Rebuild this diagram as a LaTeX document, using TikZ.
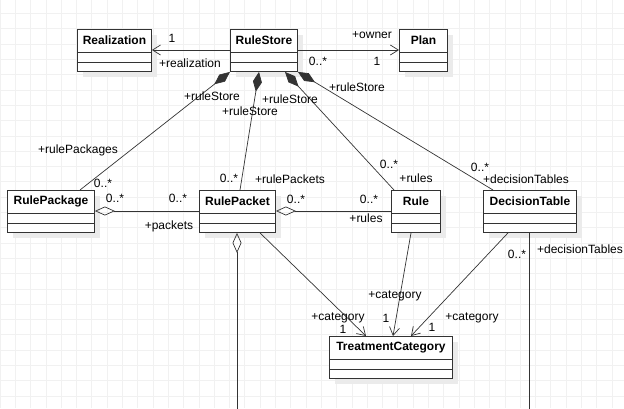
\documentclass[tikz,border=0pt]{standalone}
\usepackage{fontspec}
\setmainfont{Liberation Sans}
\usetikzlibrary{
  positioning,
  calc,
  arrows.meta
}

\definecolor{gridgray}{HTML}{F1F1F1}
\definecolor{shadowgray}{HTML}{EBEBEB}
\definecolor{linegray}{HTML}{333333}

\tikzset{
  classbox/.style={rectangle, draw=linegray, line width=0.9pt, fill=white,
    inner sep=0pt, minimum height=42pt, anchor=north west},
  classtitle/.style={font=\fontsize{12}{14}\selectfont\bfseries, inner sep=0pt},
  role/.style={font=\fontsize{12}{14}\selectfont, inner sep=0pt},
  assoc/.style={draw=linegray, line width=0.7pt, -{Straight Barb[length=8pt,width=10pt]}},
  comp/.style={draw=linegray, line width=0.7pt, {Diamond[length=20pt,width=9pt]}-},
  aggr/.style={draw=linegray, line width=0.7pt, {Diamond[open,length=20pt,width=9pt]}-}
}

\begin{document}
\begin{tikzpicture}[x=1pt,y=-1pt]
  \useasboundingbox (0,0) rectangle (624,408);

  % Raster im Hintergrund
  \foreach \i in {0,...,40}
    \draw[gridgray, line width=0.8pt] (\i*15.3,0) -- (\i*15.3,408);
  \foreach \j in {1,...,27}
    \draw[gridgray, line width=0.8pt] (0,\j*15.3-1.8) -- (624,\j*15.3-1.8);

  % Klassen: Name/links/oben/Breite
  \foreach \name/\x/\y/\w in {Realization/77/29/74, RuleStore/230/29/67, Plan/399/29/48,
      RulePackage/7/190/87, RulePacket/199/190/76, Rule/391/190/49,
      DecisionTable/483/190/93, TreatmentCategory/329/336/123}{
    \fill[shadowgray] (\x+6,\y+6) rectangle (\x+\w+6,\y+48);
    \node[classbox, minimum width=\w pt] (\name) at (\x,\y) {};
    \node[classtitle] (\name-title) at ([yshift=-11.5pt]\name.north) {\name};
    \draw[linegray, line width=0.9pt] ([yshift=-23pt]\name.north west) -- ([yshift=-23pt]\name.north east);
    \draw[linegray, line width=0.9pt] ([yshift=-33pt]\name.north west) -- ([yshift=-33pt]\name.north east);
  }

  % Enden ausserhalb des Bildes
  \coordinate (packetEnd) at (237,412);
  \coordinate (tableEnd) at (529,412);

  % Assoziationen
  \draw[assoc] ([yshift=-21pt]RuleStore.north west) -- ([yshift=-21pt]Realization.north east);
  \draw[assoc] ([yshift=-21pt]RuleStore.north east) -- ([yshift=-21pt]Plan.north west);

  % Kompositionen von RuleStore
  \draw[comp] (RuleStore.south west) -- ([xshift=73pt]RulePackage.north west);
  \draw[comp] ([xshift=29pt]RuleStore.south west) -- ([xshift=41pt]RulePacket.north west);
  \draw[comp] ([xshift=55pt]RuleStore.south west) -- ([xshift=3pt]Rule.north west);
  \draw[comp] (RuleStore.south east) -- ([xshift=10pt]DecisionTable.north west);

  % Aggregationen
  \draw[aggr] ([yshift=-21pt]RulePackage.north east) -- ([yshift=-21pt]RulePacket.north west);
  \draw[aggr] ([yshift=-21pt]RulePacket.north east) -- ([yshift=-21pt]Rule.north west);
  \draw[aggr] ([xshift=38pt]RulePacket.south west) -- (packetEnd);
  \draw[draw=linegray, line width=0.7pt] ([xshift=46pt]DecisionTable.south west) -- (tableEnd);

  % Kategorie
  \draw[assoc] ([xshift=61pt]RulePacket.south west) -- ([xshift=37pt]TreatmentCategory.north west);
  \draw[assoc] ([xshift=20pt]Rule.south west) -- ([xshift=64pt]TreatmentCategory.north west);
  \draw[assoc] ([xshift=25pt]DecisionTable.south west) -- ([xshift=82pt]TreatmentCategory.north west);

  % Rollen und Multiplizitaeten
  \foreach \t/\x/\y [count=\k] in {1/172/38, +realization/190/63, +owner/372/35,
      0..*/318/61, 1/377/61, +ruleStore/212/96, +ruleStore/250/111, +ruleStore/290/99,
      +ruleStore/357/87, +rulePackages/78/150, 0..*/103/183, 0..*/115/198,
      0..*/178/198, +packets/169/226, 0..*/229/178, +rulePackets/290/179,
      0..*/296/199, 0..*/369/199, +rules/366/218, 0..*/389/164, +rules/416/178,
      0..*/480/167, +decisionTables/526/179, 0..*/517/254, +decisionTables/580/249,
      +category/338/318, 1/343/329, +category/395/296, 1/386/318,
      +category/472/318, 1/432/327}
    \node[role] (role\k) at (\x,\y) {\t};
\end{tikzpicture}
\end{document}
